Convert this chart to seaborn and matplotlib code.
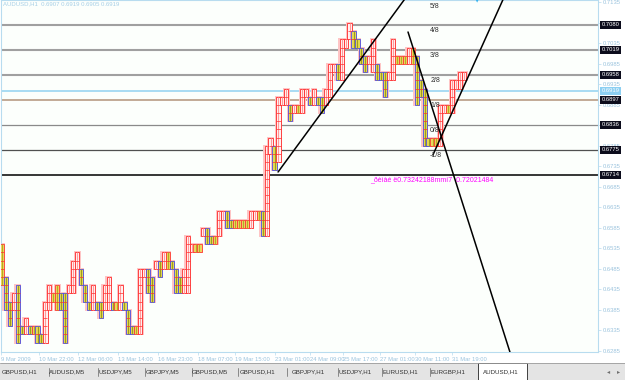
import numpy as np
import pandas as pd
import matplotlib
matplotlib.use("Agg")
import matplotlib.pyplot as plt
import matplotlib.transforms as mtransforms
from matplotlib.patches import Rectangle
import seaborn as sns

# ---------------- data ----------------
col_hi = [0.6545, 0.6465, 0.6405, 0.6425, 0.6445, 0.6345, 0.6365, 0.6345, 0.6345, 0.6345,
          0.6325, 0.6405, 0.6445, 0.6425, 0.6445, 0.6425, 0.6425, 0.6445, 0.6505, 0.6525,
          0.6485, 0.6445, 0.6405, 0.6445, 0.6405, 0.6405, 0.6445, 0.6465, 0.6405, 0.6405,
          0.6445, 0.6405, 0.6385, 0.6345, 0.6345, 0.6485, 0.6485, 0.6485, 0.6465, 0.6505,
          0.6505, 0.6525, 0.6525, 0.6505, 0.6485, 0.6465, 0.6485, 0.6565, 0.6545, 0.6545,
          0.6545, 0.6585, 0.6585, 0.6565, 0.6565, 0.6625, 0.6625, 0.6625, 0.6605, 0.6605,
          0.6605, 0.6605, 0.6605, 0.6625, 0.6625, 0.6625, 0.6625, 0.6785, 0.6805, 0.6785,
          0.6905, 0.6905, 0.6925, 0.6885, 0.6885, 0.6885, 0.6925, 0.6925, 0.6905, 0.6925,
          0.6905, 0.6905, 0.6925, 0.6985, 0.6985, 0.6985, 0.7045, 0.7045, 0.7085, 0.7065,
          0.7045, 0.7025, 0.7005, 0.7005, 0.7045, 0.6985, 0.6965, 0.6965, 0.6965, 0.7045,
          0.7005, 0.7005, 0.7005, 0.7025, 0.7025, 0.7005, 0.6945, 0.6925, 0.6805, 0.6805,
          0.6805, 0.6885, 0.6885, 0.6885, 0.6945, 0.6945, 0.6965, 0.6965]
col_lo = [0.6445, 0.6385, 0.6345, 0.6385, 0.6305, 0.6325, 0.6325, 0.6325, 0.6325, 0.6305,
          0.6305, 0.6305, 0.6385, 0.6405, 0.6385, 0.6385, 0.6305, 0.6425, 0.6425, 0.6485,
          0.6445, 0.6405, 0.6385, 0.6385, 0.6385, 0.6365, 0.6385, 0.6385, 0.6385, 0.6385,
          0.6385, 0.6385, 0.6325, 0.6325, 0.6325, 0.6325, 0.6465, 0.6425, 0.6405, 0.6485,
          0.6465, 0.6485, 0.6485, 0.6485, 0.6425, 0.6425, 0.6425, 0.6425, 0.6525, 0.6525,
          0.6525, 0.6565, 0.6545, 0.6545, 0.6545, 0.6565, 0.6605, 0.6585, 0.6585, 0.6585,
          0.6585, 0.6585, 0.6585, 0.6585, 0.6605, 0.6605, 0.6565, 0.6565, 0.6765, 0.6725,
          0.6745, 0.6885, 0.6885, 0.6845, 0.6865, 0.6865, 0.6865, 0.6905, 0.6885, 0.6885,
          0.6885, 0.6865, 0.6885, 0.6905, 0.6965, 0.6945, 0.6945, 0.7025, 0.7045, 0.7025,
          0.7025, 0.6985, 0.6965, 0.6985, 0.6965, 0.6945, 0.6945, 0.6905, 0.6945, 0.6945,
          0.6985, 0.6985, 0.6985, 0.6985, 0.6985, 0.6885, 0.6905, 0.6785, 0.6785, 0.6785,
          0.6785, 0.6785, 0.6865, 0.6865, 0.6865, 0.6925, 0.6925, 0.6945]
box_size = 0.002

murrey_levels = [0.7141, 0.7080, 0.7019, 0.6958, 0.6897, 0.6836, 0.6775, 0.6714]
murrey_names = ["5/8", "4/8", "3/8", "2/8", "1/8", "0/8", "-1/8", "-2/8"]
bid_price = 0.6919

price_ticks = [0.6285, 0.6335, 0.6385, 0.6435, 0.6485, 0.6535, 0.6585, 0.6635, 0.6685,
               0.6735, 0.6785, 0.6835, 0.6885, 0.6935, 0.6985, 0.7035, 0.7085, 0.7135]
hidden_price_labels = [0.6835, 0.7085]   # covered by the level boxes in the picture

time_tick_pos = [-0.25, 9.4, 19.2, 29.4, 39.5, 49.6, 59.0, 69.1, 78.0, 86.3, 95.7, 104.6, 113.9]
time_tick_labels = ["9 Mar 2009", "10 Mar 22:00", "12 Mar 06:00", "13 Mar 14:00",
                    "16 Mar 23:00", "18 Mar 07:00", "19 Mar 15:00", "23 Mar 01:00",
                    "24 Mar 09:00", "25 Mar 17:00", "27 Mar 01:00", "30 Mar 11:00",
                    "31 Mar 19:00"]

# trend lines: two anchor points (bar index, price)
tl_x1 = [69.9, 102.8, 109.1]
tl_y1 = [0.67213, 0.70629, 0.67628]
tl_x2 = [101.8, 128.6, 126.8]
tl_y2 = [0.71410, 0.62820, 0.71410]

title_text = "AUDUSD,H1  0.6907 0.6919 0.6905 0.6919"
fan_text = "_ðèìàé ë0.73242188mmí7  0.72021484"

tab_names = ["GBPUSD,H1", "AUDUSD,M5", "USDJPY,M5", "GBPJPY,M5", "GBPUSD,M5", "GBPUSD,H1",
             "GBPJPY,H1", "USDJPY,H1", "EURUSD,H1", "EURGBP,H1", "AUDUSD,H1"]

# ---------------- style ----------------
sns.set_style("white")
plt.rcParams["font.family"] = ["Liberation Sans", "DejaVu Sans"]

W, H = 625, 380
fig = plt.figure(figsize=(W / 100, H / 100), dpi=100)
fig.patch.set_facecolor("white")
ax = fig.add_axes([1 / W, 28 / H, 597 / W, 352 / H])
ax.set_facecolor("#fcfffc")
XMIN, XMAX = -0.25, 150.9
YMIN, YMAX = 0.6282, 0.7141
ax.set_xlim(XMIN, XMAX)
ax.set_ylim(YMIN, YMAX)

df = pd.DataFrame({"t": np.arange(len(col_hi)), "hi": col_hi, "lo": col_lo})
df["mid"] = (df.hi + df.lo) / 2
delta = df["mid"].diff().fillna(0)
face, edge, stripe = [], [], []
for d in delta:
    if d > 1e-9:
        face.append("#fff2f2"); edge.append("#ff2a2a"); stripe.append("#ff9a9a")
    elif d < -1e-9:
        face.append("#e6da52"); edge.append("#4a4ae6"); stripe.append("#9c9c22")
    else:
        face.append("#ecd85e"); edge.append("#ff3838"); stripe.append("#b8a824")

# murrey / level lines
line_styles = {
    0.7080: ("#a0a0a0", 1.5), 0.7019: ("#a0a0a0", 1.5), 0.6958: ("#a0a0a0", 1.5),
    0.6897: ("#b89c84", 1.2), 0.6836: ("#8a8a8a", 0.9), 0.6775: ("#505050", 0.9),
    0.6714: ("#000000", 1.1),
}
for lv, (c, lw) in line_styles.items():
    ax.axhline(lv, color=c, lw=lw, zorder=1)
ax.axhline(bid_price, color="#9ad6f2", lw=1.2, zorder=1)

# columns (halo, body, stripe, box lines)
ax.bar(df.t, df.hi - df.lo, bottom=df.lo, width=1.25, color="none",
       edgecolor="#ffc4c4", linewidth=1.4, zorder=2)
ax.bar(df.t, df.hi - df.lo, bottom=df.lo, width=1.05, color=face,
       edgecolor=edge, linewidth=0.6, zorder=3)
ax.vlines(df.t, df.lo, df.hi, colors=stripe, lw=0.8, zorder=3.2)
for t, lo, hi in zip(df.t, df.lo, df.hi):
    lv = np.arange(lo + box_size, hi - box_size / 2, box_size)
    if len(lv):
        ax.hlines(lv, t - 0.52, t + 0.52, colors="#ff3030", lw=0.5, zorder=3.3)

# trend lines (rays)
for x1, y1, x2, y2 in zip(tl_x1, tl_y1, tl_x2, tl_y2):
    slope = (y2 - y1) / (x2 - x1)
    xe = XMAX + 5
    ye = y1 + slope * (xe - x1)
    sns.lineplot(x=[x1, xe], y=[y1, ye], ax=ax, color="black", lw=1.1, zorder=4,
                 sort=False, estimator=None)

# murrey labels
for lv, nm in zip(murrey_levels, murrey_names):
    if nm == "-2/8":
        continue
    ax.annotate(nm, (108.4, lv), xytext=(0, -1.8), textcoords="offset points",
                va="top", ha="left", fontsize=5, color="#303030", zorder=5)

ax.text(93.2, 0.67018, fan_text, color="#ff00ff", fontsize=5, va="center",
        ha="left", zorder=5)
ax.text(0.004, 0.995, title_text, transform=ax.transAxes, va="top", ha="left",
        fontsize=4.3, color="#a6cfe6", zorder=5)

# cyan marker at top
sns.scatterplot(x=[120.3], y=[YMAX], ax=ax, marker="v", s=14, color="#36b4f0",
                edgecolor="none", zorder=6, clip_on=False)

# axes / ticks
for s in ax.spines.values():
    s.set_color("#b8dcef")
    s.set_linewidth(0.8)
ax.yaxis.tick_right()
ax.set_yticks(price_ticks)
ax.set_yticklabels(["" if v in hidden_price_labels else f"{v:.4f}" for v in price_ticks])
ax.tick_params(axis="y", which="both", right=True, left=False, length=2, width=0.5,
               pad=1.5, labelsize=4.2, labelcolor="#9cc4de", color="#b8dcef")
ax.set_xticks(time_tick_pos)
ax.set_xticklabels(time_tick_labels)
for lbl in ax.get_xticklabels():
    lbl.set_ha("left")
ax.tick_params(axis="x", bottom=True, length=2, width=0.5, pad=1.5, labelsize=4.2,
               labelcolor="#9cc4de", color="#b8dcef")
ax.set_xlabel("")
ax.set_ylabel("")

# boxed price labels on the right scale
trans = mtransforms.blended_transform_factory(ax.transAxes, ax.transData)
for lv in murrey_levels[1:]:
    ax.text(1.006, lv, f"{lv:.4f}", transform=trans, va="center", ha="left",
            fontsize=4.2, color="white", clip_on=False, zorder=7,
            bbox=dict(facecolor="#0c0c1c", edgecolor="none", pad=0.9))
ax.text(1.006, bid_price, f"{bid_price:.4f}", transform=trans, va="center", ha="left",
        fontsize=4.2, color="white", clip_on=False, zorder=7,
        bbox=dict(facecolor="#8ccff2", edgecolor="none", pad=0.9))

# tab bar
tab = fig.add_axes([0, 0, 1, 17 / H])
tab.set_xlim(0, W)
tab.set_ylim(0, 17)
tab.set_facecolor("#e6e6e6")
tab.axis("off")
tab.add_patch(Rectangle((0, 0), W, 17, facecolor="#e4e4e4", edgecolor="none"))
tab.plot([0, W], [16.6, 16.6], color="#9a9a9a", lw=0.6)
tab_centers = [20, 67, 115, 163, 210, 258, 308, 355, 400, 448, 501]
seps = [49, 98, 145, 192, 238, 287, 338, 382, 430]
for sx in seps:
    tab.plot([sx, sx], [4, 12], color="#7a7a7a", lw=0.6)
tab.add_patch(Rectangle((478, 0.5), 49, 16.5, facecolor="white", edgecolor="#404040",
                        lw=0.7))
for nm, cx in zip(tab_names, tab_centers):
    tab.text(cx, 8, nm, ha="center", va="center", fontsize=4.4, color="#303030")
tab.text(609, 8, "◂", ha="center", va="center", fontsize=4.5, color="#707070",
         family=["DejaVu Sans"])
tab.text(619, 8, "▸", ha="center", va="center", fontsize=4.5, color="#707070",
         family=["DejaVu Sans"])

fig.savefig("out.png", dpi=100, facecolor=fig.get_facecolor())
